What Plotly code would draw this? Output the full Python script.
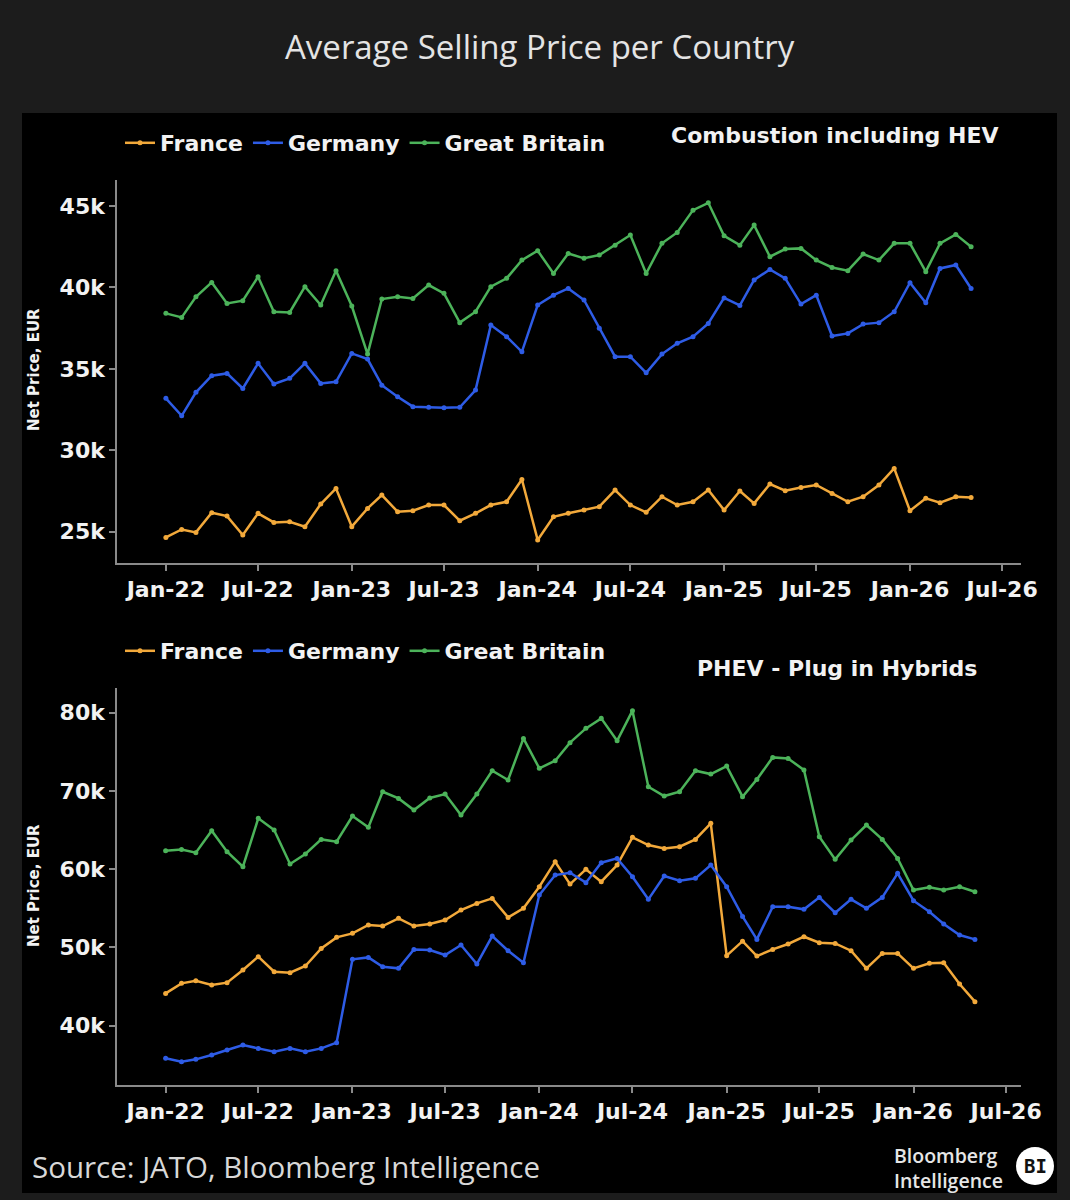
import plotly.graph_objects as go
import pandas as pd

months = pd.date_range("2022-01-01", "2026-05-01", freq="MS")

countries = ["France", "Germany", "Great Britain"]
colors = ["#f2a93b", "#2e5ce6", "#4cb35a"]

# Combustion including HEV (thousand EUR)
ice_france = [24.65, 25.14, 24.96, 26.17, 25.96, 24.80, 26.13, 25.57, 25.61, 25.31, 26.70, 27.66,
              25.31, 26.43, 27.25, 26.23, 26.29, 26.64, 26.64, 25.68, 26.13, 26.64, 26.84, 28.21,
              24.49, 25.92, 26.13, 26.33, 26.54, 27.56, 26.64, 26.19, 27.15, 26.64, 26.84, 27.56,
              26.33, 27.50, 26.74, 27.93, 27.52, 27.72, 27.87, 27.35, 26.84, 27.15, 27.87, 28.89,
              26.29, 27.05, 26.78, 27.15, 27.11]
ice_germany = [33.19, 32.12, 33.56, 34.58, 34.72, 33.80, 35.34, 34.07, 34.42, 35.34, 34.11, 34.21,
               35.95, 35.60, 34.00, 33.29, 32.68, 32.64, 32.62, 32.64, 33.70, 37.69, 36.98, 36.05,
               38.92, 39.53, 39.94, 39.23, 37.49, 35.75, 35.75, 34.76, 35.91, 36.57, 36.98, 37.79,
               39.36, 38.90, 40.46, 41.11, 40.56, 38.98, 39.53, 37.02, 37.18, 37.75, 37.84, 38.51,
               40.29, 39.06, 41.17, 41.38, 39.94]
ice_gb = [38.41, 38.16, 39.43, 40.31, 39.02, 39.19, 40.66, 38.51, 38.47, 40.05, 38.92, 41.03,
          38.86, 35.91, 39.29, 39.43, 39.33, 40.15, 39.64, 37.84, 38.51, 40.05, 40.56, 41.68,
          42.26, 40.86, 42.09, 41.79, 41.99, 42.60, 43.22, 40.86, 42.71, 43.38, 44.75, 45.20,
          43.17, 42.60, 43.83, 41.89, 42.36, 42.40, 41.68, 41.23, 41.03, 42.05, 41.68, 42.71,
          42.71, 40.97, 42.71, 43.26, 42.50]

# PHEV - Plug in Hybrids (thousand EUR)
phev_france = [44.13, 45.41, 45.75, 45.20, 45.50, 47.11, 48.82, 46.90, 46.77, 47.63, 49.88, 51.29,
               51.80, 52.87, 52.74, 53.72, 52.74, 53.00, 53.50, 54.78, 55.63, 56.27, 53.84, 55.00,
               57.76, 60.96, 58.10, 59.98, 58.40, 60.53, 64.07, 63.09, 62.66, 62.88, 63.81, 65.86,
               48.95, 50.80, 48.90, 49.75, 50.44, 51.37, 50.61, 50.52, 49.58, 47.33, 49.24, 49.24,
               47.33, 47.97, 48.05, 45.33, 43.07]
phev_germany = [35.83, 35.40, 35.70, 36.25, 36.89, 37.53, 37.10, 36.68, 37.10, 36.68, 37.10, 37.83,
                48.48, 48.73, 47.54, 47.33, 49.75, 49.67, 49.03, 50.31, 47.88, 51.46, 49.58, 48.05,
                56.70, 59.25, 59.55, 58.28, 60.83, 61.38, 59.04, 56.15, 59.13, 58.53, 58.83, 60.53,
                57.76, 53.97, 51.03, 55.21, 55.21, 54.87, 56.40, 54.44, 56.15, 55.00, 56.40, 59.47,
                55.97, 54.57, 52.99, 51.59, 51.03]
phev_gb = [62.36, 62.53, 62.11, 64.92, 62.24, 60.32, 66.50, 65.00, 60.66, 61.94, 63.81, 63.51,
           66.79, 65.35, 69.90, 69.05, 67.56, 69.10, 69.60, 66.92, 69.60, 72.59, 71.40, 76.72,
           72.89, 73.87, 76.17, 78.00, 79.28, 76.42, 80.26, 70.54, 69.35, 69.90, 72.59, 72.16,
           73.18, 69.27, 71.48, 74.29, 74.16, 72.67, 64.15, 61.26, 63.73, 65.64, 63.81, 61.38,
           57.34, 57.68, 57.34, 57.76, 57.12]

W, H = 1070, 1200


def px(x):
    return x / W


def py(y):
    return 1 - y / H


BOLD = dict(family="DejaVu Sans", weight="bold", color="#f2f2f2")

fig = go.Figure()
for i, (name, vals) in enumerate(zip(countries, [ice_france, ice_germany, ice_gb])):
    fig.add_trace(go.Scatter(x=months, y=vals, name=name, mode="lines+markers",
                             line=dict(color=colors[i], width=2.5),
                             marker=dict(size=5, color=colors[i]),
                             xaxis="x", yaxis="y", legend="legend"))
for i, (name, vals) in enumerate(zip(countries, [phev_france, phev_germany, phev_gb])):
    fig.add_trace(go.Scatter(x=months, y=vals, name=name, mode="lines+markers",
                             line=dict(color=colors[i], width=2.5),
                             marker=dict(size=5, color=colors[i]),
                             xaxis="x2", yaxis="y2", legend="legend2"))

axis_common = dict(showgrid=False, zeroline=False, showline=True, linecolor="#8a8a8a", linewidth=1.5,
                   ticks="outside", tickcolor="#8a8a8a", ticklen=6, tickwidth=1.5, automargin=False)
xcommon = dict(axis_common, type="date", dtick="M6", tick0="2022-01-01", tickformat="%b-%y",
               tickfont=dict(BOLD, size=22), ticklabelstandoff=0)
ycommon = dict(axis_common, ticksuffix="k", tickfont=dict(BOLD, size=22))


def ann(text, x, y, font, **kw):
    d = dict(text=text, x=px(x), y=py(y), xref="paper", yref="paper", showarrow=False,
             xanchor="center", yanchor="middle", font=font)
    d.update(kw)
    return d


fig.update_layout(
    width=W, height=H,
    margin=dict(l=0, r=0, t=0, b=0, pad=0, autoexpand=False),
    paper_bgcolor="#1c1c1c",
    plot_bgcolor="#000000",
    showlegend=True,
    xaxis=dict(xcommon, domain=[px(117), px(1021)], range=["2021-09-27", "2026-08-07"], anchor="y"),
    yaxis=dict(ycommon, domain=[py(563), py(180)], range=[23.08, 46.6], dtick=5, tick0=25, anchor="x"),
    xaxis2=dict(xcommon, domain=[px(117), px(1021)], range=["2021-09-28", "2026-07-30"], anchor="y2"),
    yaxis2=dict(ycommon, domain=[py(1085), py(688)], range=[32.42, 83.16], dtick=10, tick0=40, anchor="x2"),
    legend=dict(orientation="h", x=px(120), y=py(143), xanchor="left", yanchor="middle",
                font=dict(BOLD, size=22), bgcolor="rgba(0,0,0,0)", itemwidth=30, traceorder="normal"),
    legend2=dict(orientation="h", x=px(120), y=py(651), xanchor="left", yanchor="middle",
                 font=dict(BOLD, size=22), bgcolor="rgba(0,0,0,0)", itemwidth=30, traceorder="normal"),
    shapes=[
        dict(type="rect", xref="paper", yref="paper", x0=px(22), x1=px(1057), y0=py(1193), y1=py(113),
             fillcolor="#000000", line=dict(width=0), layer="below"),
        dict(type="circle", xref="paper", yref="paper", x0=px(1016), x1=px(1054), y0=py(1185), y1=py(1147),
             fillcolor="#ffffff", line=dict(width=0)),
    ],
    annotations=[
        ann("Average Selling Price per Country", 540, 46,
            dict(family="Open Sans", size=33, color="#e4e4e4")),
        ann("Combustion including HEV", 834, 136, dict(BOLD, size=22)),
        ann("PHEV - Plug in Hybrids", 837, 668, dict(BOLD, size=22)),
        ann("Net Price, EUR", 34, 370, dict(BOLD, size=15), textangle=-90),
        ann("Net Price, EUR", 34, 886, dict(BOLD, size=15), textangle=-90),
        ann("Source: JATO, Bloomberg Intelligence", 30, 1166,
            dict(family="Open Sans", size=29.5, color="#d8d8d8"), xanchor="left"),
        ann("Bloomberg<br>Intelligence", 892, 1168,
            dict(family="Open Sans", size=19.5, weight=600, color="#e6e6e6"), xanchor="left", align="left"),
        ann("BI", 1035, 1166, dict(family="DejaVu Sans Mono", size=19, weight="bold", color="#111111")),
    ],
)

fig.write_html("out.html")
